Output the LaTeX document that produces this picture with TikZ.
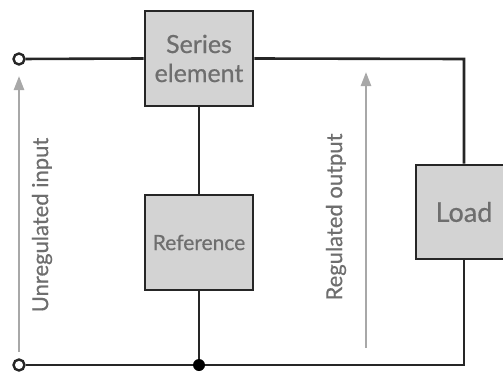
\documentclass[tikz,border=0pt]{standalone}
\usepackage{fontspec}
\setmainfont{Lato}[FakeBold=0.6]
\usetikzlibrary{arrows.meta}
\definecolor{boxfill}{HTML}{D3D3D3}
\definecolor{boxline}{HTML}{262626}
\definecolor{txtgray}{HTML}{6E6E6E}
\definecolor{arrgray}{HTML}{A8A8A8}
\tikzset{
  blk/.style={draw=boxline, fill=boxfill, line width=2.6pt, inner sep=0pt, text=txtgray, align=center},
  wire/.style={draw=boxline, line width=2.6pt},
  term/.style={circle, draw=boxline, fill=white, line width=2.4pt, minimum size=11pt, inner sep=0pt},
  junc/.style={circle, fill=black, minimum size=12pt, inner sep=0pt},
  varrow/.style={draw=arrgray, line width=2.4pt, -{Triangle[length=14pt,width=10pt]}},
  vlabel/.style={rotate=90, text=txtgray, font=\fontsize{22}{24}\selectfont},
}
\begin{document}
\begin{tikzpicture}[x=1pt,y=-1pt]
\useasboundingbox (0,0) rectangle (503,372);
\clip (0,0) rectangle (503,372);
\node[blk, minimum width=108pt, minimum height=95pt, font=\fontsize{25}{29}\selectfont] (ser) at (199,58.5) {Series\\element};
\node[blk, minimum width=108pt, minimum height=95pt, font=\fontsize{21}{24}\selectfont] (ref) at (199,242.5) {Reference};
\node[blk, minimum width=96pt, minimum height=94pt, font=\fontsize{27}{30}\selectfont] (load) at (464,212) {Load};
\node[term] (tin) at (19,59) {};
\node[term] (tout) at (19,365) {};
\node[junc] (j) at (199,365) {};
\coordinate (tr) at (464,59);
\coordinate (br) at (464,365);
\draw[wire] (tin) -- (ser.west);
\draw[wire] (ser.east) -- (tr) -- (load.north);
\draw[wire] (ser.south) -- (ref.north);
\draw[wire] (ref.south) -- (j);
\draw[wire] (tout) -- (j) -- (br) -- (load.south);
\coordinate (a1s) at (19,352);
\coordinate (a1e) at (19,76);
\coordinate (a2s) at (366,348);
\coordinate (a2e) at (366,72);
\draw[varrow] (a1s) -- (a1e);
\draw[varrow] (a2s) -- (a2e);
\node[vlabel] (lin) at (42,225) {Unregulated input};
\node[vlabel] (lout) at (336,217) {Regulated output};
\end{tikzpicture}
\end{document}
